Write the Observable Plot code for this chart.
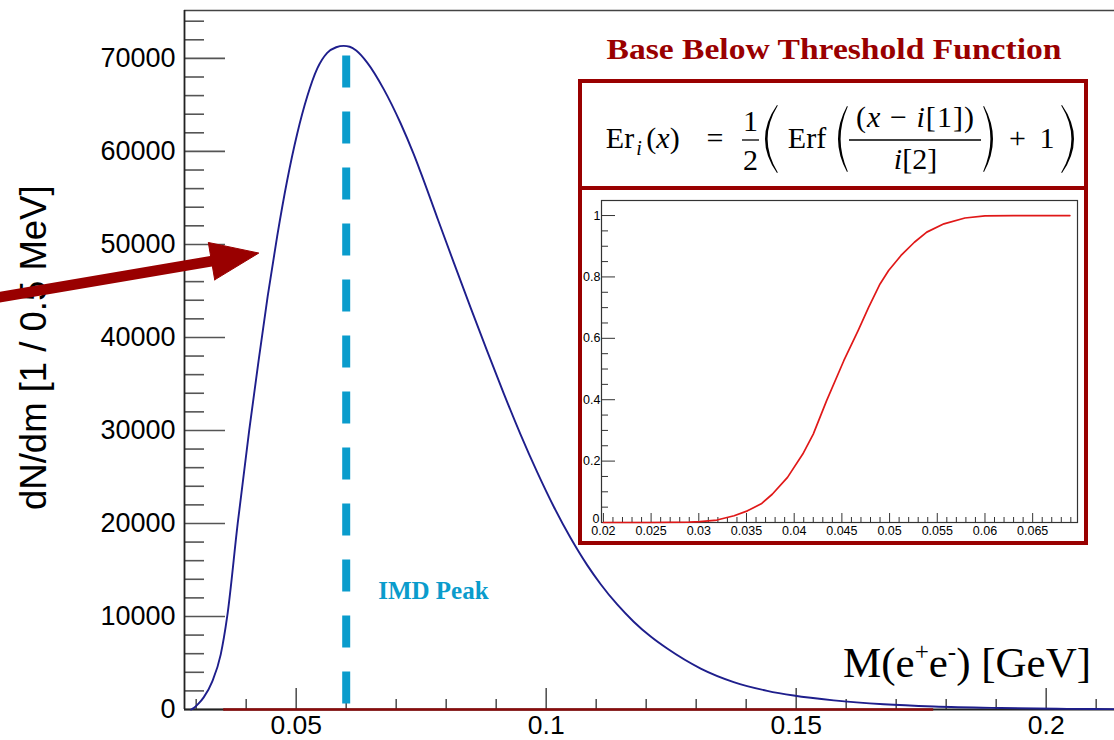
<!DOCTYPE html>
<html><head><meta charset="utf-8">
<script src="https://cdn.jsdelivr.net/npm/d3@7"></script>
<script src="https://cdn.jsdelivr.net/npm/@observablehq/plot@0.6"></script>
<style>
html,body{margin:0;padding:0;background:#fff;}
#wrap{position:relative;width:1114px;height:740px;overflow:hidden;background:#fff;}
#wrap svg{position:absolute;}
.box{position:absolute;border:4px solid #990000;background:#fff;box-sizing:border-box;}
#fbox{left:578px;top:79px;width:510px;height:111px;}
#pbox{left:578px;top:186px;width:510px;height:359px;}
#xlabel{position:absolute;left:843px;top:641px;font:43px "Liberation Serif","Times New Roman",serif;line-height:43px;white-space:nowrap;color:#000;}
#xlabel sup{font-size:25px;vertical-align:0;position:relative;top:-17px;}
</style></head><body>
<div id="wrap"></div>
<script>
// ---------- data ----------
// main histogram: M(e+e-) [GeV] vs dN/dm [1 / 0.5 MeV]
const massGeV = [0.0290,0.0295,0.0305,0.0315,0.0332,0.0349,0.0362,0.0383,0.0406,0.0425,0.0443,0.0462,0.0482,0.0502,0.0522,0.0542,0.0562,0.0580,0.0595,0.0607,0.0620,0.0642,0.0675,0.0709,0.0735,0.07486,0.0782,0.08152,0.08486,0.0882,0.09152,0.09486,0.0982,0.10152,0.10486,0.1082,0.1109,0.1142,0.1175,0.1209,0.1242,0.1309,0.1375,0.1442,0.1495,0.1575,0.1675,0.1775,0.1909,0.2042,0.2136];
const counts  = [0,150,650,1300,3000,5900,10000,20000,30000,37600,44440,50900,56900,61900,65900,68900,70600,71200,71350,71250,70850,69550,66700,63000,59700,57800,52890,48040,43230,38520,33970,29590,25520,21800,18460,15520,13470,11290,9440,7840,6550,4400,2950,2010,1500,980,560,320,160,70,40];
const xTickLabels = [0.05, 0.1, 0.15, 0.2];
const xMinorTicks = [0.03,0.04,0.06,0.07,0.08,0.09,0.11,0.12,0.13,0.14,0.16,0.17,0.18,0.19,0.21];
const yTickLabels = [0,10000,20000,30000,40000,50000,60000,70000];
const yMinorTicks = [2000,4000,6000,8000,12000,14000,16000,18000,22000,24000,26000,28000,32000,34000,36000,38000,42000,44000,46000,48000,52000,54000,56000,58000,62000,64000,66000,68000,72000,74000];
const imdPeakMass = [0.06];
const imdPeakTop = [70270];
const redFitRange = [0.0355, 0.1775];
// arrow annotation (data units of the main chart)
const arrowShaftX = [-0.01014, 0.03386];
const arrowShaftY = [44248, 48277];
const arrowHeadX = [0.0337, 0.04252, 0.03242, 0.0337];
const arrowHeadY = [46193, 49072, 50211, 46193];
// inset: threshold function Er_i(x)
const erfX = [0.0200,0.0250,0.0290,0.0301,0.0319,0.0337,0.0351,0.0366,0.0377,0.0393,0.0409,0.0420,0.0434,0.0452,0.0467,0.0478,0.0490,0.0499,0.0512,0.0526,0.0539,0.0557,0.0579,0.0600,0.0630,0.0689];
const erfY = [0,0,0.001,0.003,0.008,0.022,0.038,0.062,0.092,0.147,0.223,0.288,0.397,0.527,0.625,0.701,0.777,0.821,0.870,0.913,0.946,0.973,0.992,0.999,1.0,1.0];
const insetXTickLabels = ["0.02","0.025","0.03","0.035","0.04","0.045","0.05","0.055","0.06","0.065"];
const insetYTickLabels = ["0","0.2","0.4","0.6","0.8","1"];

// ---------- main chart ----------
const W = 1114, H = 740, ML = 184, MR = 0, MT = 10, MB = 31;
const PW = W - ML - MR, PH = H - MT - MB;
const X0 = 0.02766, X1 = 0.21366, Y1 = 75150;
const hist = massGeV.map((m, i) => ({m, n: counts[i]}));
const shaft = arrowShaftX.map((x, i) => ({x, y: arrowShaftY[i]}));
const head = arrowHeadX.map((x, i) => ({x, y: arrowHeadY[i]}));
const sans = "Liberation Sans, Arial, Helvetica, sans-serif";
const serif = "Liberation Serif, Times New Roman, serif";
const tickColor = "#555";

const main = Plot.plot({
  width: W, height: H,
  marginLeft: ML, marginRight: MR, marginTop: MT, marginBottom: MB,
  style: {background: "transparent", fontFamily: sans, color: "#000", overflow: "visible"},
  x: {domain: [X0, X1]},
  y: {domain: [0, Y1]},
  marks: [
    Plot.axisX(xTickLabels, {tickSize: 0, tickPadding: 6, fontSize: 26.5, tickFormat: d => String(d), label: null}),
    Plot.axisY(yTickLabels, {tickSize: 0, tickPadding: 9, fontSize: 27, tickFormat: d => String(d), label: null}),
    Plot.tickX(xMinorTicks, {x: d => d, insetTop: PH - 10, stroke: tickColor, strokeWidth: 1.6}),
    Plot.tickX(xTickLabels, {x: d => d, insetTop: PH - 21, stroke: tickColor, strokeWidth: 1.6}),
    Plot.tickY(yMinorTicks, {y: d => d, insetRight: PW - 20, stroke: tickColor, strokeWidth: 1.6}),
    Plot.tickY(yTickLabels, {y: d => d, insetRight: PW - 41, stroke: tickColor, strokeWidth: 1.6}),
    Plot.ruleY([Y1], {stroke: "#444", strokeWidth: 1.5}),
    Plot.ruleX([X0], {stroke: "#222", strokeWidth: 1.8}),
    Plot.ruleY([0], {stroke: "#222", strokeWidth: 1.8}),
    Plot.ruleY([0], {x1: redFitRange[0], x2: redFitRange[1], stroke: "#8b0a0a", strokeWidth: 2.6}),
    Plot.line(hist, {x: "m", y: "n", stroke: "#1e1e8c", strokeWidth: 1.9, curve: "monotone-x"}),
    Plot.ruleX([{x: imdPeakMass[0], y1: imdPeakTop[0], y2: 0}], {x: "x", y1: "y1", y2: "y2", stroke: "#0a9ccc", strokeWidth: 8, strokeDasharray: "32,24"}),
    Plot.text(["IMD Peak"], {x: 0.0664, y: 12700, text: d => d, textAnchor: "start", fill: "#0a9ccc", fontWeight: "bold", fontFamily: serif, fontSize: 25}),
    Plot.text(["dN/dm [1 / 0.5 MeV]"], {x: X0 - 150 / 5000, y: 38900, rotate: -90, text: d => d, fontSize: 36.5, fontFamily: sans, fill: "#000"}),
    Plot.line(shaft, {x: "x", y: "y", stroke: "#990000", strokeWidth: 10.5}),
    Plot.line(head, {x: "x", y: "y", fill: "#990000", stroke: "#990000", strokeWidth: 1})
  ]
});
main.style.left = "0px"; main.style.top = "0px";
const wrap = document.getElementById("wrap");
wrap.appendChild(main);

// ---------- inset boxes ----------
const fbox = document.createElement("div"); fbox.className = "box"; fbox.id = "fbox"; wrap.appendChild(fbox);
const pbox = document.createElement("div"); pbox.className = "box"; pbox.id = "pbox"; wrap.appendChild(pbox);

// ---------- title + formula (typeset as SVG text) ----------
function paren(xEnd, xMid, yTop, yBot, open) {
  const ym = (yTop + yBot) / 2, s = open ? 1 : -1;
  const c1 = 2 * xMid - xEnd, c2 = 2 * (xMid + s * 2.2) - xEnd;
  return `<path d="M${xEnd},${yTop} Q${c1},${ym} ${xEnd},${yBot} L${xEnd + s * 0.8},${yBot - 0.6} Q${c2},${ym} ${xEnd + s * 0.8},${yTop + 0.6} Z" fill="#000"/>`;
}
const F = 'font-family="Liberation Serif, Times New Roman, serif"';
const overlay = document.createElementNS("http://www.w3.org/2000/svg", "svg");
overlay.setAttribute("width", 1114); overlay.setAttribute("height", 740);
overlay.style.left = "0px"; overlay.style.top = "0px"; overlay.style.pointerEvents = "none";
overlay.innerHTML = `
<text x="834" y="59" text-anchor="middle" ${F} font-weight="bold" font-size="30" fill="#990000" textLength="455" lengthAdjust="spacingAndGlyphs">Base Below Threshold Function</text>
<g ${F} font-size="30" fill="#000" text-anchor="middle">
  <text x="620" y="148">Er</text>
  <text x="639" y="155" font-size="20" font-style="italic">i</text>
  <text x="663" y="148">(<tspan font-style="italic">x</tspan>)</text>
  <text x="715" y="148">=</text>
  <text x="750.5" y="131">1</text>
  <line x1="742" x2="759" y1="140" y2="140" stroke="#000" stroke-width="1.3"/>
  <text x="750.5" y="170">2</text>
  ${paren(777, 765, 105, 173, true)}
  <text x="807" y="148">Erf</text>
  ${paren(847, 838, 106, 172, true)}
  <text x="915" y="127" textLength="118" lengthAdjust="spacing">(<tspan font-style="italic">x</tspan> − <tspan font-style="italic">i</tspan>[1])</text>
  <line x1="849" x2="981" y1="140" y2="140" stroke="#000" stroke-width="1.3"/>
  <text x="915.5" y="169"><tspan font-style="italic">i</tspan>[2]</text>
  ${paren(984, 993, 106, 172, false)}
  <text x="1017.5" y="148">+</text>
  <text x="1047" y="148">1</text>
  ${paren(1062, 1074, 105, 173, false)}
</g>`;

// ---------- inset chart ----------
const iW = 502, iH = 351, iML = 19, iMR = 7, iMT = 10, iMB = 19;
const iPW = iW - iML - iMR, iPH = iH - iMT - iMB;
const iX0 = 0.0198, iX1 = 0.0697, iY1 = 1.049;
const insetXTicks = insetXTickLabels.map(Number);
const insetYTicks = insetYTickLabels.map(Number);
const insetXMinor = d3.range(0, 50).map(k => 0.02 + k * 0.001).filter(v => v < iX1 && Math.abs(v * 200 - Math.round(v * 200)) > 1e-6);
const insetYMinor = d3.range(0, 21).map(k => k * 0.05).filter(v => Math.abs(v * 5 - Math.round(v * 5)) > 1e-6);
const erfRows = erfX.map((x, i) => ({x, y: erfY[i]}));

const inset = Plot.plot({
  width: iW, height: iH,
  marginLeft: iML, marginRight: iMR, marginTop: iMT, marginBottom: iMB,
  style: {background: "transparent", fontFamily: sans, color: "#000", overflow: "visible"},
  x: {domain: [iX0, iX1]},
  y: {domain: [0, iY1]},
  marks: [
    Plot.axisX(insetXTicks, {tickSize: 0, tickPadding: 4, fontSize: 12.5, tickFormat: (d, i) => insetXTickLabels[i], label: null}),
    Plot.axisY(insetYTicks.slice(1), {tickSize: 0, tickPadding: 1, fontSize: 12.5, tickFormat: (d, i) => insetYTickLabels[i + 1], label: null}),
    Plot.axisY([insetYTicks[0]], {tickSize: 0, tickPadding: 2, fontSize: 12.5, dy: -4, tickFormat: () => insetYTickLabels[0], label: null}),
    Plot.tickX(insetXMinor, {x: d => d, insetTop: iPH - 5, stroke: "#333", strokeWidth: 1}),
    Plot.tickX(insetXTicks, {x: d => d, insetTop: iPH - 9, stroke: "#333", strokeWidth: 1}),
    Plot.tickY(insetYMinor, {y: d => d, insetRight: iPW - 7, stroke: "#333", strokeWidth: 1}),
    Plot.tickY(insetYTicks, {y: d => d, insetRight: iPW - 14, stroke: "#333", strokeWidth: 1}),
    Plot.frame({stroke: "#333", strokeWidth: 1.2}),
    Plot.line(erfRows, {x: "x", y: "y", stroke: "#e01818", strokeWidth: 1.7})
  ]
});
inset.style.left = "582px"; inset.style.top = "190px";
wrap.appendChild(inset);
wrap.appendChild(overlay);

// x-axis title
const xl = document.createElement("div");
xl.id = "xlabel";
xl.innerHTML = 'M(e<sup>+</sup>e<sup>-</sup>) [GeV]';
wrap.appendChild(xl);
</script>
</body></html>
